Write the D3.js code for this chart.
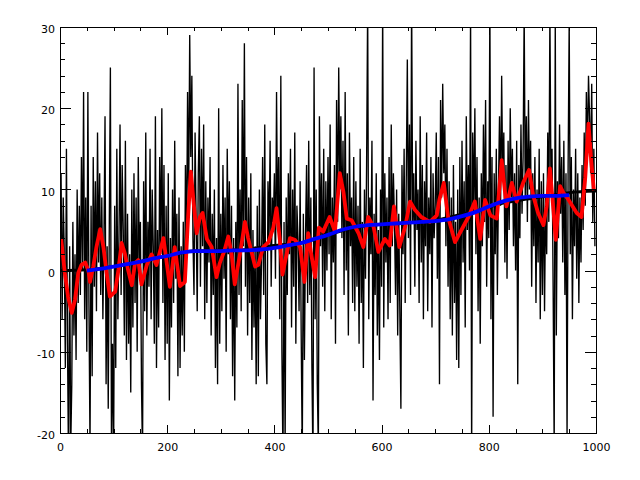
<!DOCTYPE html>
<html>
<head>
<meta charset="utf-8">
<script src="https://cdn.jsdelivr.net/npm/d3@7"></script>
<style>
html,body{margin:0;padding:0;background:#fff;}
svg{display:block;}
.axis text{font-family:"DejaVu Sans",sans-serif;font-size:11px;fill:#000;}
.axis line{stroke:#000;stroke-width:1;shape-rendering:crispEdges;}
.axis path{display:none;}
</style>
</head>
<body>
<script>
// ---- data ----
const xTicks = [0, 200, 400, 600, 800, 1000];
const yTicks = [-20, -10, 0, 10, 20, 30];
const xDomain = [0, 1000];
const yDomain = [-20, 30];

// noisy signal, one value every 2 samples (x = 0, 2, 4, ... 998)
const noiseY = [
 4,12,-6,9,2,-12,15,-9,-25,3,-22,-14,6,-8,2,-11,10,-4,8,-3,14,0,22,-6,9,
 -10,22,-4,-22,8,-13,14,-2,11,-5,17,1,12,-3,9,-6,4,19,-14,3,-17,6,25,-21,-9,
 -24,8,-12,15,-6,4,18,-3,13,5,-8,16,-11,7,-9,2,-15,10,-7,12,-4,9,-10,14,1,
 6,-14,-23,11,-5,17,-8,6,-2,15,-6,10,3,-9,19,-12,5,-7,14,2,20,-4,13,-11,8,
 -9,12,-16,4,-7,10,-4,16,-1,7,-13,9,-12,3,-8,6,-10,13,2,22,8,29,14,24,4,
 -3,17,6,-5,12,19,-2,15,3,18,-6,11,-4,9,1,14,-8,7,-3,10,-12,4,-14,20,-9,
 7,-5,13,-1,9,-10,15,2,11,-6,8,-13,4,-16,6,-7,23,-3,10,-5,21,3,28,-2,14,
 -8,9,-4,12,-11,5,-7,3,-14,8,-13,10,-6,1,14,-3,18,-9,-14,11,4,16,-2,9,6,
 12,-1,22,5,14,-6,24,-10,-24,6,-22,9,-3,12,2,15,-7,10,-2,17,-9,8,4,-5,11,
 -8,-23,7,-11,4,13,-4,16,-3,9,-12,-24,25,-6,10,-14,-22,19,3,12,-2,15,-5,11,0,
 14,2,18,-6,9,1,13,-9,21,6,25,10,19,4,16,-3,22,0,12,-8,17,3,9,-4,14,
 -5,11,-2,8,-9,15,-4,6,-12,10,-1,13,33,-6,9,2,16,-16,7,-3,12,-8,5,-11,10,
 -2,33,-7,12,1,9,-6,14,-4,18,3,12,6,-3,10,-8,7,-5,-17,13,2,15,-4,11,26,
 4,18,-3,34,6,12,-2,16,5,10,-4,19,1,13,-6,11,3,17,-5,9,2,14,-7,12,4,
 8,17,-1,14,-14,21,9,23,12,18,3,15,-2,11,-6,9,-8,13,-4,6,-11,10,-12,14,-3,
 16,1,11,-7,19,5,13,0,32,-23,17,7,20,2,14,-5,9,-9,12,3,18,6,21,-2,11,
 4,33,-6,14,-18,12,2,15,-3,10,19,8,24,11,17,1,13,-1,16,5,20,9,15,3,12,
 0,16,-14,13,4,18,7,14,32,9,19,6,21,10,16,-2,12,3,14,-4,10,1,15,-6,11,
 -3,12,-5,9,2,17,6,32,10,15,-2,-22,31,-8,11,4,18,7,14,1,16,-3,12,-21,13,
 31,2,14,-6,10,3,15,-1,12,-4,9,1,13,5,17,8,22,14,24,19,12,23,6,15,3
];

// red smoothed curve
const redX = [2,9,15,22,28,34,40,47,53,56,62,68,75,81,87,93,103,109,115,121,127,134,140,146,152,162,171,180,193,205,214,224,233,239,244,250,255,261,266,274,283,292,298,307,314,320,326,336,345,351,364,370,379,389,398,404,410,415,423,429,438,448,456,463,469,476,483,491,503,513,522,529,535,544,557,566,575,585,594,606,615,623,633,644,653,662,674,690,703,708,716,724,737,749,762,774,784,793,803,815,824,833,843,852,864,875,883,892,902,908,914,920,925,933,939,949,964,973,980,986,991,996];
const redY = [4.0,-0.3,-3.2,-5.2,-3.6,-0.3,0.7,1.0,0.0,-1.4,0.5,2.9,5.1,2.9,-0.3,-3.2,-2.6,0.1,3.4,2.1,0.1,-1.8,0.9,1.3,-1.7,0.7,2.0,0.7,4.0,-2.0,2.9,-1.9,-1.4,6.6,12.2,7.9,4.6,6.6,7.1,3.9,2.9,-0.8,0.9,2.5,4.2,2.1,-1.7,2.1,6.0,4.0,0.5,0.7,2.9,3.5,5.3,7.7,3.9,-0.5,2.1,4.0,3.8,2.9,-1.4,4.6,1.9,-0.8,5.3,4.8,6.6,4.8,12.0,9.6,6.4,6.2,4.6,2.9,6.6,5.4,2.3,3.9,3.1,7.9,2.9,5.4,8.5,7.5,6.6,6.0,6.8,8.8,10.8,6.6,3.5,5.0,6.6,8.5,3.9,8.7,6.8,6.4,13.6,7.9,10.8,8.5,10.8,12.4,9.2,7.1,5.6,7.9,12.6,7.9,3.8,10.4,9.6,8.7,7.1,6.6,11.5,18.1,13.6,9.9];

// blue heavily smoothed curve
const blueX = [50,75,100,125,150,175,200,225,250,275,300,325,350,375,400,425,450,475,500,525,550,575,600,625,650,675,700,725,750,775,800,825,850,875,900,925,950];
const blueY = [0.0,0.2,0.5,0.8,1.1,1.5,1.8,2.2,2.4,2.4,2.4,2.5,2.5,2.6,2.8,3.1,3.4,3.9,4.4,5.0,5.4,5.6,5.7,5.8,5.9,6.0,6.1,6.3,6.7,7.2,7.9,8.5,8.9,9.1,9.2,9.2,9.3];

// thick black underlying curve (visible mostly at the ends)
const trendX = [0,50,100,150,200,250,300,350,385,420,450,500,550,600,650,700,740,780,820,870,920,950,1000];
const trendY = [0.0,0.1,0.5,1.1,1.8,2.4,2.5,2.6,3.0,3.2,3.4,4.4,5.3,5.7,5.9,6.2,6.8,7.4,8.2,8.8,9.3,9.6,9.8];

// ---- drawing ----
const W = 640, H = 480;
const m = {left: 60, top: 27, right: 44, bottom: 47};
const pw = W - m.left - m.right, ph = H - m.top - m.bottom;

const svg = d3.select("body").append("svg").attr("width", W).attr("height", H);
svg.append("rect").attr("width", W).attr("height", H).attr("fill", "#fff");
svg.append("defs").append("clipPath").attr("id", "clip")
  .append("rect").attr("x", 0).attr("y", 0).attr("width", pw).attr("height", ph);

const g = svg.append("g").attr("transform", `translate(${m.left},${m.top})`);
const x = d3.scaleLinear().domain(xDomain).range([0, pw]);
const y = d3.scaleLinear().domain(yDomain).range([ph, 0]);

const plot = g.append("g").attr("clip-path", "url(#clip)");
const noiseX = d3.range(0, 1000, 2);
const noisePts = noiseY.map((v, i) => [noiseX[i], v]);
const line = d3.line().x(d => x(d[0])).y(d => y(d[1]));

plot.append("path").datum(noisePts).attr("d", line)
  .attr("fill", "none").attr("stroke", "#000").attr("stroke-width", 1.35);
plot.append("path").datum(trendX.map((v, i) => [v, trendY[i]]))
  .attr("d", d3.line().x(d => x(d[0])).y(d => y(d[1])).curve(d3.curveMonotoneX))
  .attr("fill", "none").attr("stroke", "#000").attr("stroke-width", 3);
plot.append("path").datum(redX.map((v, i) => [v, redY[i]])).attr("d", line)
  .attr("fill", "none").attr("stroke", "#ff0000").attr("stroke-width", 3.8).attr("stroke-linejoin", "round");
plot.append("path").datum(blueX.map((v, i) => [v, blueY[i]]))
  .attr("d", d3.line().x(d => x(d[0])).y(d => y(d[1])).curve(d3.curveMonotoneX))
  .attr("fill", "none").attr("stroke", "#0000ff").attr("stroke-width", 3.8);

// axes: ticks inward on all four sides
const xMinor = d3.range(0, 1001, 50).filter(v => v % 200 !== 0);
const yMinor = d3.range(-20, 31, 2).filter(v => v % 10 !== 0);

g.append("g").attr("class", "axis").attr("transform", `translate(0,${ph})`)
  .call(d3.axisBottom(x).tickValues(xTicks).tickSize(-8).tickSizeOuter(0).tickPadding(10).tickFormat(d3.format("d")));
g.append("g").attr("class", "axis").attr("transform", `translate(0,${ph})`)
  .call(d3.axisBottom(x).tickValues(xMinor).tickSize(-4).tickSizeOuter(0).tickFormat(""));
g.append("g").attr("class", "axis")
  .call(d3.axisTop(x).tickValues(xTicks).tickSize(-8).tickSizeOuter(0).tickFormat(""));
g.append("g").attr("class", "axis")
  .call(d3.axisTop(x).tickValues(xMinor).tickSize(-4).tickSizeOuter(0).tickFormat(""));

const yl = g.append("g").attr("class", "axis")
  .call(d3.axisLeft(y).tickValues(yTicks).tickSize(-11).tickSizeOuter(0).tickPadding(5).tickFormat(d => d < 0 ? "-" + Math.abs(d) : String(d)));
yl.selectAll("text").attr("dy", "0.52em");
g.append("g").attr("class", "axis")
  .call(d3.axisLeft(y).tickValues(yMinor).tickSize(-5).tickSizeOuter(0).tickFormat(""));
g.append("g").attr("class", "axis").attr("transform", `translate(${pw},0)`)
  .call(d3.axisRight(y).tickValues(yTicks).tickSize(-11).tickSizeOuter(0).tickFormat(""));
g.append("g").attr("class", "axis").attr("transform", `translate(${pw},0)`)
  .call(d3.axisRight(y).tickValues(yMinor).tickSize(-5).tickSizeOuter(0).tickFormat(""));

g.append("rect").attr("x", 0.5).attr("y", 0.5).attr("width", pw).attr("height", ph)
  .attr("fill", "none").attr("stroke", "#000").attr("stroke-width", 1);
</script>
</body>
</html>
